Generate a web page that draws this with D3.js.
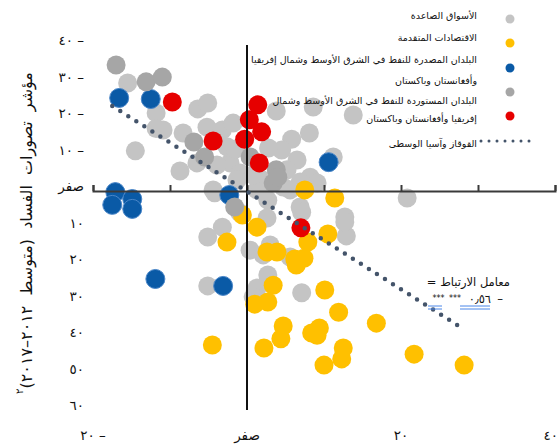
<!DOCTYPE html>
<html>
<head>
<meta charset="utf-8">
<script src="https://cdn.jsdelivr.net/npm/d3@7"></script>
<style>
  html, body { margin: 0; padding: 0; background: #fff; }
  svg { display: block; font-family: "DejaVu Sans", sans-serif; }
</style>
</head>
<body>
<svg id="chart" width="559" height="445"></svg>
<script>
// Emerging markets
const emergingX = [-15.5,-11.8,-10.9,-8.3,-6.4,-5.1,-5.2,-3.2,-1.8,-8.7,-6.5,-14.5,-2.2,-2.6,-0.9,-1.3,-4.4,1.3,1.7,3.8,5.8,8.1,8.6,13.8,4.5,6.5,5.2,8.2,9.1,6.9,4.7,5.6,2.7,6.9,7.1,11.2,12.7,12.9,-0.9,-3.2,-5.1,2.6,3.0,0.4,2.1,5.6,2.7,1.3,0.8,7.1,-5.1,20.8,-4.2,12.7,-11.8,-3.9,-1.5,2.8,1.8,0.8];
const emergingY = [-29.6,-21.4,-16.7,-15.9,-22.5,-24.1,-17.5,-16.7,-18.6,-5.5,-7.7,-11.0,-7.7,-12.1,-4.9,-3.0,-0.3,-0.3,-1.6,-21.9,-14.2,-15.9,-23.0,-20.8,-11.2,-8.5,-5.8,-3.8,-2.2,-2.5,-1.1,-0.3,2.5,4.4,5.8,-9.3,7.1,12.3,6.0,9.9,12.6,7.4,14.8,16.2,17.5,18.1,23.0,26.6,29.0,27.9,26.0,1.9,0.5,8.5,-17.1,-7.1,-11.5,-11.8,-3.3,-4.4];
// Advanced economies
const advancedX = [7.5,11.4,-0.6,1.3,-2.6,10.5,7.9,2.6,3.9,6.2,7.4,6.4,3.4,10.1,1.0,2.7,11.9,16.8,4.7,4.4,8.4,9.4,9.1,2.2,12.5,12.3,10.0,21.7,28.2,-4.5];
const advancedY = [-0.3,1.9,6.6,9.9,14.0,11.8,14.0,16.7,16.7,18.6,18.4,20.3,25.8,27.1,31.0,30.4,33.2,36.2,37.0,40.5,38.9,37.5,39.5,43.0,43.0,46.0,47.7,44.7,47.7,42.2];
// MENAP oil exporters
const exportersX = [-16.6,-12.5,-17.1,-14.9,-17.5,-14.9,-2.3,-11.9,-3.1,10.6];
const exportersY = [-25.5,-25.2,0.3,2.2,3.8,4.9,1.1,24.1,26.0,-7.9];
// Caucasus and Central Asia
const ccaX = [-17.0,-13.1,-11.0,-6.9,-5.5,0.4,-1.6,3.8,3.4,4.0];
const ccaY = [-34.5,-29.9,-31.2,-13.4,-9.3,-9.3,4.4,-5.8,-2.2,-3.8];
// MENAP oil importers
const importersX = [-9.7,-4.4,-0.3,0.3,1.4,1.9,1.6,7.0];
const importersY = [-24.4,-13.7,-14.2,-19.5,-23.6,-16.2,-7.7,10.1];

// Linear trend end points
const trendX = [-17.5, 27.9];
const trendY = [-23.3, 37.5];

// Axis ticks and labels
const yTickValues = [-40,-30,-20,-10,0,10,20,30,40,50,60];
const yTickLabels = ["٤٠ –","٣٠ –","٢٠ –","١٠ –","صفر","١٠","٢٠","٣٠","٤٠","٥٠","٦٠"];
const xTickMarks = [-20,-10,0,10,20,30,40];
const xLabelValues = [-20,0,20,40];
const xTickLabels = ["٢٠ –","صفر","٢٠","٤٠"];

const legendLabels = [
  ["الأسواق الصاعدة"],
  ["الاقتصادات المتقدمة"],
  ["البلدان المصدرة للنفط في الشرق الأوسط وشمال إفريقيا", "وأفغانستان وباكستان"],
  ["البلدان المستوردة للنفط في الشرق الأوسط وشمال", "إفريقيا وأفغانستان وباكستان"],
  ["القوقاز وآسيا الوسطى"]
];
const yTitle = "مؤشر تصورات الفساد (متوسط ٢٠١٢–٢٠١٧)";
const corrLabel = "معامل الارتباط =\u200F";
const corrValue = "٠٫٥٦";
const corrStars = "***";

const colors = {
  emerging: "#c4c4c4",
  advanced: "#ffc000",
  exporters: "#0a5aa6",
  cca: "#a6a6a6",
  importers: "#e60000",
  trend: "#44546a"
};

const svg = d3.select("#chart");
const x = d3.scaleLinear().domain([-20, 40]).range([93, 555]);
const y = d3.scaleLinear().domain([-40, 60]).range([45, 410]);
const R = 9.5;

// Scatter series, drawn in series order
const series = [
  {xs: emergingX, ys: emergingY, c: colors.emerging},
  {xs: advancedX, ys: advancedY, c: colors.advanced},
  {xs: exportersX, ys: exportersY, c: colors.exporters, stroke: "#4a86c8"},
  {xs: ccaX, ys: ccaY, c: colors.cca},
  {xs: importersX, ys: importersY, c: colors.importers}
];
const gPts = svg.append("g");
series.forEach(s => {
  gPts.append("g").selectAll("circle")
    .data(s.xs.map((v, i) => [v, s.ys[i]]))
    .join("circle")
    .attr("cx", d => x(d[0]))
    .attr("cy", d => y(d[1]))
    .attr("r", R)
    .attr("fill", s.c)
    .attr("stroke", s.stroke || "none")
    .attr("stroke-width", s.stroke ? 1 : 0);
});

// Axes: horizontal axis through zero with upward ticks, vertical line through zero
const xAxis = d3.axisBottom(x).tickValues(xTickMarks).tickSizeInner(-6).tickSizeOuter(-6).tickFormat("");
svg.append("g").attr("transform", `translate(0,${y(0)})`).call(xAxis)
  .call(g => g.selectAll("path,line").attr("stroke", "#3a3a3a").attr("stroke-width", 2));

svg.append("line")
  .attr("x1", x(0)).attr("x2", x(0))
  .attr("y1", y(-40)).attr("y2", y(60))
  .attr("stroke", "#111").attr("stroke-width", 2);

// Trend line (dotted)
svg.append("line")
  .attr("x1", x(trendX[0])).attr("y1", y(trendY[0]))
  .attr("x2", x(trendX[1])).attr("y2", y(trendY[1]))
  .attr("stroke", colors.trend).attr("stroke-width", 4.5)
  .attr("stroke-linecap", "round").attr("stroke-dasharray", "0 9.5");

// Tick labels
svg.append("g").selectAll("text")
  .data(yTickValues)
  .join("text")
  .attr("x", 84)
  .attr("y", d => y(d) - 5)
  .attr("text-anchor", "end")
  .attr("dominant-baseline", "central")
  .attr("font-size", 13.5)
  .attr("fill", "#111")
  .text((d, i) => yTickLabels[i]);

svg.append("g").selectAll("text")
  .data(xLabelValues)
  .join("text")
  .attr("x", d => d === 40 ? 558 : x(d))
  .attr("y", 435)
  .attr("text-anchor", d => d === 40 ? "end" : "middle")
  .attr("dominant-baseline", "central")
  .attr("font-size", 13.5)
  .attr("fill", "#111")
  .text((d, i) => xTickLabels[i]);

// Vertical axis title
const title = svg.append("text")
  .attr("transform", "translate(26,233) rotate(-90)")
  .attr("text-anchor", "middle")
  .attr("dominant-baseline", "central")
  .attr("font-size", 16)
  .attr("word-spacing", 5)
  .attr("fill", "#111")
  .attr("direction", "rtl");
title.append("tspan").text(yTitle);
title.append("tspan").attr("font-size", 10).attr("dy", -7).text("٢");

// Legend
const legMarkY = [19, 43, 68, 92, 116];
const legMarkColors = [colors.emerging, colors.advanced, colors.exporters, colors.cca, colors.importers];
const lg = svg.append("g");
lg.selectAll("circle").data(legMarkY).join("circle")
  .attr("cx", 510).attr("cy", d => d).attr("r", 4.5)
  .attr("fill", (d, i) => legMarkColors[i]);
lg.append("line").attr("x1", 481).attr("x2", 537).attr("y1", 141).attr("y2", 141)
  .attr("stroke", colors.trend).attr("stroke-width", 3)
  .attr("stroke-linecap", "round").attr("stroke-dasharray", "0 8");

const legTextY = [[15], [37], [59, 80], [100, 118.5], [143]];
legendLabels.forEach((lines, i) => {
  lines.forEach((t, j) => {
    lg.append("text")
      .attr("x", 477).attr("y", legTextY[i][j])
      .attr("text-anchor", "end")
      .attr("dominant-baseline", "central")
      .attr("font-size", 9.5)
      .attr("fill", "#111")
      .text(t);
  });
});

// Correlation note
svg.append("text")
  .attr("x", 510).attr("y", 282)
  .attr("text-anchor", "end").attr("dominant-baseline", "central")
  .attr("font-size", 11.5).attr("fill", "#111")
  .text(corrLabel);
const noteRow = svg.append("g").attr("font-size", 11.5).attr("fill", "#111");
noteRow.append("text").attr("x", 503).attr("y", 299)
  .attr("text-anchor", "end").attr("dominant-baseline", "central").text("–");
noteRow.append("text").attr("x", 491).attr("y", 299)
  .attr("text-anchor", "end").attr("dominant-baseline", "central").text(corrValue);
[438.5, 455].forEach(cx => {
  noteRow.append("text").attr("x", cx).attr("y", 298)
    .attr("text-anchor", "middle").attr("dominant-baseline", "central")
    .attr("font-size", 8).text(corrStars);
});
// double underline marks
[[428, 442], [460, 490]].forEach(([a, b]) => {
  [306, 309].forEach(yy => {
    svg.append("line").attr("x1", a).attr("x2", b).attr("y1", yy).attr("y2", yy)
      .attr("stroke", "#4a86e8").attr("stroke-width", 1);
  });
});
</script>
</body>
</html>
